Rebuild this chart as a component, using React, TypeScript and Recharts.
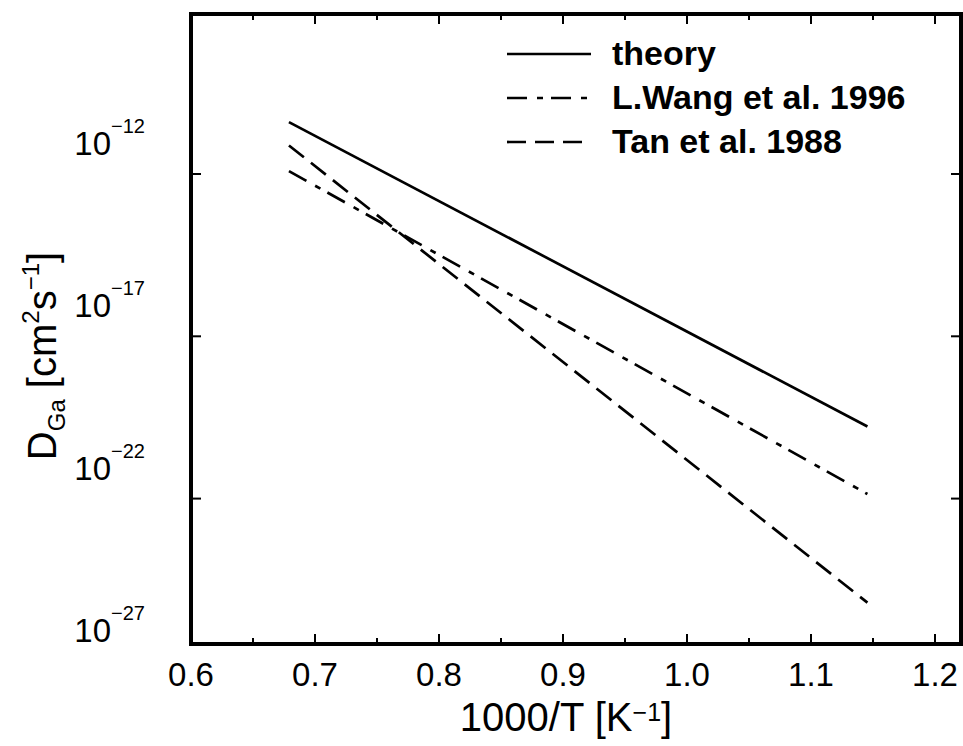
import React from 'react';
import { LineChart, Line, XAxis, YAxis, ReferenceArea, Legend } from 'recharts';

const FONT = '"Liberation Sans", Arial, Helvetica, sans-serif';

// ---- data ----
const seriesNames = ['theory', 'L.Wang et al. 1996', 'Tan et al. 1988'];
const seriesDash = ['', '20 10 6 8', '19 9'];
const invT = [0.679, 1.1455];
const theoryD = [3.98e-11, 1.66e-20];
const wangD = [1.23e-12, 1.38e-22];
const tanD = [7.59e-12, 6.24e-26];

const xTicks = [0.6, 0.65, 0.7, 0.75, 0.8, 0.85, 0.9, 0.95, 1.0, 1.05, 1.1, 1.15, 1.2];
const yTicks = [1e-12, 1e-17, 1e-22, 1e-27];
const yTickLabels = ['\u221212', '\u221217', '\u221222', '\u221227'];

// ---- layout ----
const W = 963;
const H = 746;
const LEFT_W = 191;
const RIGHT_W = 2;
const TOP_H = 14;
const BOTTOM_H = 102;
const PLOT_BOTTOM = H - BOTTOM_H;
const X_DOMAIN: [number, number] = [0.6, 0.6 + (W - LEFT_W - RIGHT_W) / 1240];
const Y_DOMAIN: [number, number] = [Math.pow(10, -26.48), Math.pow(10, -7.07)];

const toRows = (ys: number[]) => invT.map((x, i) => ({ x, y: ys[i] }));
const seriesData = [toRows(theoryD), toRows(wangD), toRows(tanD)];

const isMajorX = (v: number) => Math.round(v * 100) % 10 === 0;

const BottomTick = (props: any) => {
  const { x, y, payload } = props;
  const v = payload.value as number;
  const major = isMajorX(v);
  return (
    <g>
      <line x1={x} x2={x} y1={y} y2={y - (major ? 10 : 6)} stroke="#000" strokeWidth={2} />
      {major && (
        <text x={x} y={y + 42} textAnchor="middle" fontSize={33} fontFamily={FONT} fill="#000">
          {v.toFixed(1)}
        </text>
      )}
    </g>
  );
};

const TopTick = (props: any) => {
  const { x, y, payload } = props;
  const major = isMajorX(payload.value as number);
  return <line x1={x} x2={x} y1={y} y2={y + (major ? 10 : 6)} stroke="#000" strokeWidth={2} />;
};

const LeftTick = (props: any) => {
  const { x, y, payload, index } = props;
  const inside = y <= PLOT_BOTTOM + 1;
  const sup = yTickLabels[yTicks.indexOf(payload.value)] ?? yTickLabels[index];
  return (
    <g>
      {inside && <line x1={x} x2={x + 10} y1={y} y2={y} stroke="#000" strokeWidth={2} />}
      <text x={x - 46} y={y - 19} textAnchor="end" fontSize={33} fontFamily={FONT} fill="#000">
        <tspan>10</tspan>
        <tspan dy={-22} fontSize={20}>{sup}</tspan>
      </text>
    </g>
  );
};

const RightTick = (props: any) => {
  const { x, y } = props;
  if (y > PLOT_BOTTOM + 1) return <g />;
  return <line x1={x} x2={x - 10} y1={y} y2={y} stroke="#000" strokeWidth={2} />;
};

const XTitle = () => (
  <text x={566} y={731} textAnchor="middle" fontSize={40} fontFamily={FONT} fill="#000">
    <tspan>1000/T [K</tspan>
    <tspan dy={-10} fontSize={25}>{'\u22121'}</tspan>
    <tspan dy={10}>]</tspan>
  </text>
);

const YTitle = () => (
  <text
    x={0}
    y={0}
    transform="translate(56 356) rotate(-90)"
    textAnchor="middle"
    fontSize={40}
    fontFamily={FONT}
    fill="#000"
  >
    <tspan>D</tspan>
    <tspan dy={9} fontSize={24}>Ga</tspan>
    <tspan dy={-9}> [cm</tspan>
    <tspan dy={-17} fontSize={24}>2</tspan>
    <tspan dy={17}>s</tspan>
    <tspan dy={-17} fontSize={24}>{'\u22121'}</tspan>
    <tspan dy={17}>]</tspan>
  </text>
);

const renderLegend = () => (
  <svg width={W} height={H} style={{ position: 'absolute', left: 0, top: 0 }}>
    {seriesNames.map((name, i) => {
      const y = 54 + i * 44;
      return (
        <g key={name}>
          <line
            x1={507}
            x2={591}
            y1={y}
            y2={y}
            stroke="#000"
            strokeWidth={2.7}
            strokeDasharray={seriesDash[i] || undefined}
          />
          <text x={612} y={y + 11} fontSize={34} fontWeight="bold" fontFamily={FONT} fill="#000">
            {name}
          </text>
        </g>
      );
    })}
  </svg>
);

export default function App() {
  return (
    <div style={{ position: 'absolute', left: 0, top: 0, width: W, height: H, background: '#fff' }}>
      <LineChart width={W} height={H} margin={{ top: 0, right: 0, bottom: 0, left: 0 }}>
        <XAxis
          xAxisId="bottom"
          dataKey="x"
          type="number"
          orientation="bottom"
          domain={X_DOMAIN}
          allowDataOverflow
          ticks={xTicks}
          interval={0}
          height={BOTTOM_H}
          axisLine={false}
          tickLine={false}
          tickSize={0}
          tickMargin={0}
          tick={<BottomTick />}
          label={{ content: () => <XTitle /> }}
        />
        <XAxis
          xAxisId="top"
          dataKey="x"
          type="number"
          orientation="top"
          domain={X_DOMAIN}
          allowDataOverflow
          ticks={xTicks}
          interval={0}
          height={TOP_H}
          axisLine={false}
          tickLine={false}
          tickSize={0}
          tickMargin={0}
          tick={<TopTick />}
        />
        <YAxis
          yAxisId="left"
          type="number"
          scale="log"
          domain={Y_DOMAIN}
          allowDataOverflow
          ticks={yTicks}
          interval={0}
          width={LEFT_W}
          axisLine={false}
          tickLine={false}
          tickSize={0}
          tickMargin={0}
          tick={<LeftTick />}
          label={{ content: () => <YTitle /> }}
        />
        <YAxis
          yAxisId="right"
          orientation="right"
          type="number"
          scale="log"
          domain={Y_DOMAIN}
          allowDataOverflow
          ticks={yTicks}
          interval={0}
          width={RIGHT_W}
          axisLine={false}
          tickLine={false}
          tickSize={0}
          tickMargin={0}
          tick={<RightTick />}
        />
        <ReferenceArea
          xAxisId="bottom"
          yAxisId="left"
          x1={X_DOMAIN[0]}
          x2={X_DOMAIN[1]}
          y1={Y_DOMAIN[0]}
          y2={Y_DOMAIN[1]}
          fill="none"
          fillOpacity={0}
          stroke="#000"
          strokeWidth={4}
          strokeOpacity={1}
          ifOverflow="visible"
        />
        {seriesNames.map((name, i) => (
          <Line
            key={name}
            name={name}
            xAxisId="bottom"
            yAxisId="left"
            data={seriesData[i]}
            dataKey="y"
            type="linear"
            stroke="#000"
            strokeWidth={2.7}
            strokeDasharray={seriesDash[i] || undefined}
            dot={false}
            activeDot={false}
            isAnimationActive={false}
          />
        ))}
        <Legend
          layout="horizontal"
          verticalAlign="middle"
          align="center"
          wrapperStyle={{ position: 'absolute', left: 0, top: 0, width: W, height: H, pointerEvents: 'none' }}
          content={renderLegend}
        />
      </LineChart>
    </div>
  );
}
